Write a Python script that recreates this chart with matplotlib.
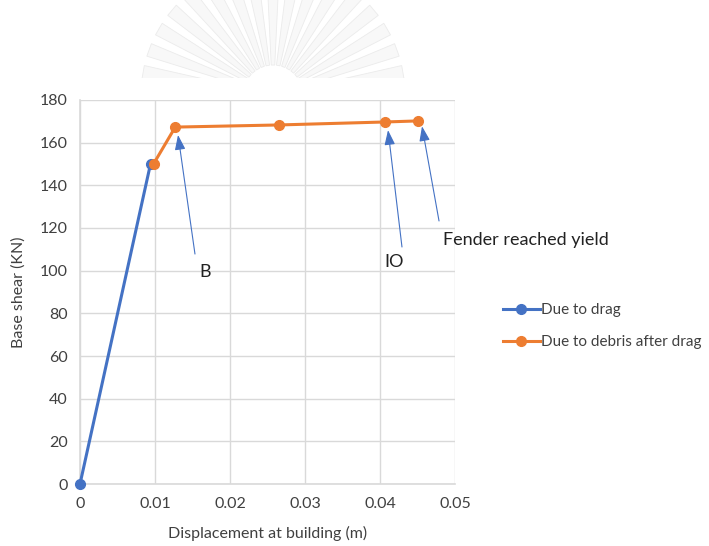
import numpy as np
import matplotlib.pyplot as plt
from matplotlib.patches import Polygon, Rectangle

plt.rcParams['font.family'] = ['Lato', 'DejaVu Sans']

# Pushover-type curves
drag_x = [0.0, 0.0094]
drag_y = [0.0, 150.0]
debris_x = [0.0098, 0.0127, 0.0265, 0.0407, 0.0451]
debris_y = [150.0, 167.3, 168.3, 169.7, 170.2]

series_labels = ["Due to drag", "Due to debris after drag"]
x_ticks = [0, 0.01, 0.02, 0.03, 0.04, 0.05]
x_tick_labels = ["0", "0.01", "0.02", "0.03", "0.04", "0.05"]
y_ticks = [0, 20, 40, 60, 80, 100, 120, 140, 160, 180]

# Annotations: (label, arrow tip, arrow tail, text position, horizontal alignment)
notes = [
    ("B", (0.01307, 163.6), (0.01533, 107.8), (0.01667, 99.4), "center"),
    ("IO", (0.04107, 165.9), (0.04293, 111.1), (0.04187, 104.1), "center"),
    ("Fender reached yield", (0.04560, 167.7), (0.04787, 123.3), (0.0484, 114.4), "left"),
]

blue = "#4472c4"
orange = "#ed7d31"
text_gray = "#404040"
grid_gray = "#d9d9d9"

fig = plt.figure(figsize=(7.09, 5.46), dpi=100)

# faint emblem behind the page header
W, H = 709, 546
cx, cy = 273 / W, 1 - 95 / H
for ang in np.linspace(10, 170, 17):
    a = np.deg2rad(ang)
    w = np.deg2rad(3.4)
    r0, r1 = 30, 132
    pts = []
    for r, da in [(r0, -w), (r1, -w * 0.85), (r1, w * 0.85), (r0, w)]:
        pts.append((cx + r * np.cos(a + da) / W, cy + r * np.sin(a + da) / H))
    fig.add_artist(Polygon(pts, closed=True, transform=fig.transFigure,
                           facecolor="#f8f8f8", edgecolor="#ebebeb", lw=0.6, zorder=-2))
fig.add_artist(Rectangle((0, 0), 1, 1 - 78 / H, transform=fig.transFigure,
                         facecolor="white", edgecolor="none", zorder=-1))

ax = fig.add_axes([80 / W, 62 / H, 375 / W, 384 / H])
ax.patch.set_alpha(0)

ax.plot(drag_x, drag_y, color=blue, lw=2.2, marker="o", ms=7, label=series_labels[0],
        zorder=3, clip_on=False)
ax.plot(debris_x, debris_y, color=orange, lw=2.2, marker="o", ms=7, label=series_labels[1],
        zorder=4, clip_on=False)

for label, tip, tail, pos, ha in notes:
    ax.annotate("", xy=tip, xytext=tail,
                arrowprops=dict(arrowstyle="-|>,head_length=0.9,head_width=0.32",
                                color=blue, lw=0.8, shrinkA=0, shrinkB=0),
                zorder=5, annotation_clip=False)
    ax.text(pos[0], pos[1], label, fontsize=13, color="#222222", ha=ha, va="center",
            zorder=6, clip_on=False)

ax.set_xlim(0, 0.05)
ax.set_ylim(0, 180)
ax.set_xticks(x_ticks)
ax.set_xticklabels(x_tick_labels)
ax.set_yticks(y_ticks)
ax.grid(True, color=grid_gray, lw=1.0, zorder=0)
ax.set_axisbelow(True)
for s in ["top", "right"]:
    ax.spines[s].set_visible(False)
for s in ["left", "bottom"]:
    ax.spines[s].set_color(grid_gray)
    ax.spines[s].set_linewidth(1.2)
ax.tick_params(length=0, labelsize=11.5, labelcolor=text_gray, pad=9)
ax.set_xlabel("Displacement at building (m)", fontsize=11.5, color=text_gray, labelpad=11)
ax.set_ylabel("Base shear (KN)", fontsize=11.5, color=text_gray, labelpad=10)

fig.legend(loc="upper left", bbox_to_anchor=(497 / W, 1 - 297 / H), frameon=False,
           fontsize=11, labelcolor=text_gray, handlelength=2.4, handletextpad=0.1,
           labelspacing=1.2, borderaxespad=0)

fig.savefig("out.png", dpi=100)
